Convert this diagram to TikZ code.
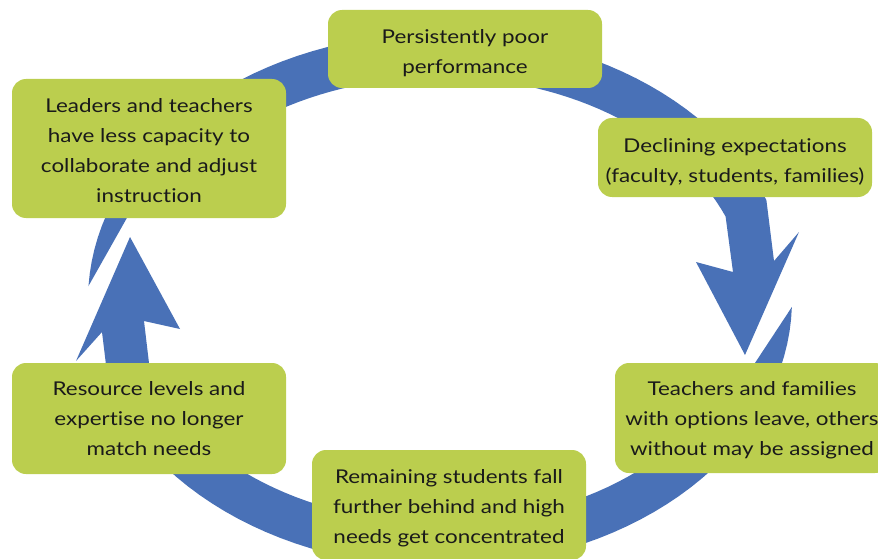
\documentclass[tikz,border=0pt]{standalone}
\usepackage{fontspec}
\setmainfont{Lato}[FakeStretch=1.18, Ligatures=NoCommon]
\usepackage{xcolor}
\definecolor{cyclegreen}{RGB}{187,206,78}
\definecolor{cycleblue}{RGB}{73,113,183}
\definecolor{textdark}{RGB}{26,26,26}
\newcommand{\topgap}[1]{\rule{0pt}{#1}}

\begin{document}
\begin{tikzpicture}[x=1pt, y=1pt,
  stage/.style={fill=cyclegreen, rounded corners=14pt, minimum width=274pt,
    align=center, text=textdark, font=\fontsize{19}{30}\selectfont, inner sep=0pt}]
  % Canvas
  \useasboundingbox (0,0) rectangle (878,-559);
  \clip (0,0) rectangle (878,-559);

  % Ring geometry (centre, outer and inner radii)
  \def\cx{440} \def\cy{-300}
  \def\ox{352} \def\oy{267}
  \def\ix{308} \def\iy{223}

  % Upper arrow (left to right)
  \fill[cycleblue]
    plot[domain=177:22, samples=60] ({\cx+\ox*cos(\x)},{\cy+\oy*sin(\x)})
    -- (774,-261) -- (799,-232) -- (745,-355) -- (696,-262) -- (733,-272)
    -- plot[domain=22:150, samples=60] ({\cx+\ix*cos(\x)},{\cy+\iy*sin(\x)})
    -- (128,-216) -- cycle;

  % Lower arrow (right to left)
  \fill[cycleblue]
    plot[domain=-1.5:-160, samples=60] ({\cx+\ox*cos(\x)},{\cy+\oy*sin(\x)})
    -- (102,-332) -- (76,-361) -- (130,-237) -- (180,-329) -- (144,-321)
    -- plot[domain=-160:-22, samples=60] ({\cx+\ix*cos(\x)},{\cy+\iy*sin(\x)})
    -- (753,-366) -- cycle;

  % Stages
  \node[stage, minimum height=78pt] (poor) at (465,-49) {\topgap{23pt}Persistently poor\\performance};
  \node[stage, minimum height=79pt] (expect) at (735,-157.5) {\topgap{24pt}Declining expectations\\(faculty, students, families)};
  \node[stage, minimum height=110pt] (leave) at (752,-418) {\topgap{17.5pt}Teachers and families\\with options leave, others\\without may be assigned};
  \node[stage, minimum height=110pt] (behind) at (449,-505) {\topgap{20.5pt}Remaining students fall\\further behind and high\\needs get concentrated};
  \node[stage, minimum height=111pt] (match) at (149,-418.5) {Resource levels and\\expertise no longer\\match needs};
  \node[stage, minimum height=139pt] (capacity) at (149,-148.5) {\topgap{18.5pt}Leaders and teachers\\have less capacity to\\collaborate and adjust\\instruction};
\end{tikzpicture}
\end{document}
